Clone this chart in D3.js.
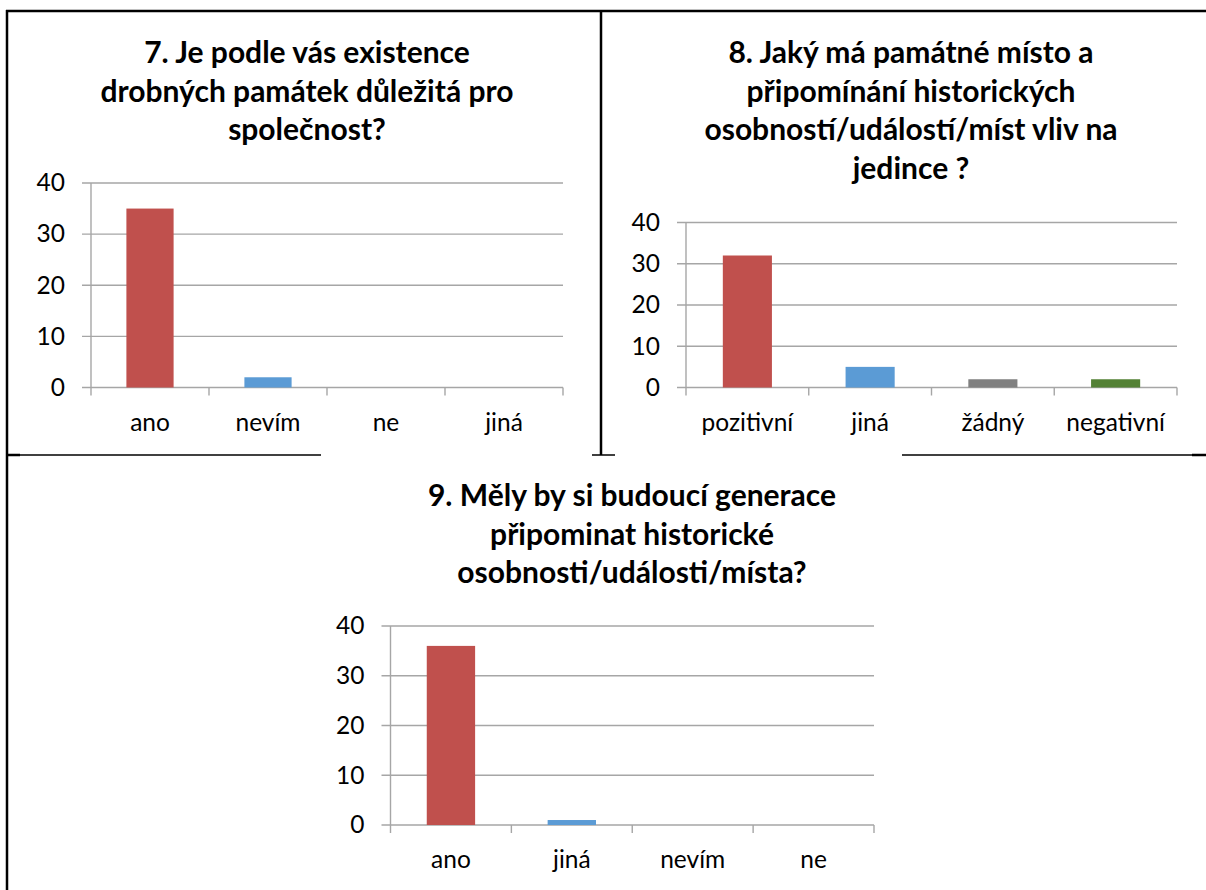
<!DOCTYPE html>
<html>
<head>
<meta charset="utf-8">
<script src="https://cdn.jsdelivr.net/npm/d3@7"></script>
<style>
  html, body { margin: 0; padding: 0; background: #fff; }
  svg { display: block; }
  text { font-family: Lato, "Open Sans", sans-serif; fill: #000; }
</style>
</head>
<body>
<svg id="chart" width="1206" height="890"></svg>
<script>
// ---------- data ----------
const yTicks = [0, 10, 20, 30, 40];
const palette = ["#C0504D", "#5B9BD5", "#808080", "#538135"];

const title7 = ["7. Je podle vás existence", "drobných památek důležitá pro", "společnost?"];
const cats7 = ["ano", "nevím", "ne", "jiná"];
const vals7 = [35, 2, 0, 0];

const title8 = ["8. Jaký má památné místo a", "připomínání historických", "osobností/událostí/míst vliv na", "jedince ?"];
const cats8 = ["pozitivní", "jiná", "žádný", "negativní"];
const vals8 = [32, 5, 2, 2];

const title9 = ["9. Měly by si budoucí generace", "připominat historické", "osobnosti/události/místa?"];
const cats9 = ["ano", "jiná", "nevím", "ne"];
const vals9 = [36, 1, 0, 0];

// ---------- layout ----------
const layouts = [
  { x0: 91, x1: 563, yBottom: 387.5, yTop: 183, titleX: 307, titleY: 63 },
  { x0: 686, x1: 1177, yBottom: 387.5, yTop: 222.5, titleX: 911, titleY: 63 },
  { x0: 390.5, x1: 874, yBottom: 825, yTop: 626, titleX: 632, titleY: 506 }
];

const svg = d3.select("#chart");
const gridColor = "#A6A6A6";
const labelSize = 24.5;

// ---------- frame lines ----------
const frame = svg.append("g").attr("stroke", "#000").attr("fill", "none");
frame.append("line").attr("x1", 6).attr("x2", 1206).attr("y1", 11).attr("y2", 11).attr("stroke-width", 2.5);
frame.append("line").attr("x1", 7).attr("x2", 7).attr("y1", 10).attr("y2", 890).attr("stroke-width", 2.5);
frame.append("line").attr("x1", 601).attr("x2", 601).attr("y1", 11).attr("y2", 455).attr("stroke-width", 2.5);
[[6, 321, 1.5], [6, 20, 2.5], [592, 615, 1.5], [902, 1206, 1.5], [1192, 1206, 2.5]].forEach(s => {
  frame.append("line").attr("x1", s[0]).attr("x2", s[1]).attr("y1", 455).attr("y2", 455).attr("stroke-width", s[2]);
});

// ---------- charts ----------
function drawChart(L, titleLines, cats, vals) {
  const g = svg.append("g");
  const x = d3.scaleBand().domain(cats).range([L.x0, L.x1]).paddingInner(0.6).paddingOuter(0.3);
  const y = d3.scaleLinear().domain([0, 40]).range([L.yBottom, L.yTop]);

  // title
  const t = g.append("text")
    .attr("text-anchor", "middle")
    .attr("font-weight", 700)
    .attr("font-size", 30);
  titleLines.forEach((line, i) => {
    t.append("tspan").attr("x", L.titleX).attr("y", L.titleY + i * 38.5).text(line);
  });

  // gridlines
  g.append("g").selectAll("line").data(yTicks).join("line")
    .attr("x1", L.x0 - 9).attr("x2", L.x1)
    .attr("y1", d => y(d)).attr("y2", d => y(d))
    .attr("stroke", gridColor).attr("stroke-width", 1.4);

  // y axis labels
  const ya = g.append("g").attr("transform", `translate(${L.x0},0)`)
    .call(d3.axisLeft(y).tickValues(yTicks).tickSize(0).tickPadding(26));
  ya.select(".domain").remove();
  ya.selectAll("text").attr("font-size", labelSize).attr("font-family", "Lato, 'Open Sans', sans-serif").attr("fill", "#000");

  // vertical axis line
  g.append("line").attr("x1", L.x0).attr("x2", L.x0).attr("y1", y(40)).attr("y2", y(0) + 8)
    .attr("stroke", gridColor).attr("stroke-width", 1.4);

  // category boundary ticks
  const step = x.step();
  const bounds = cats.map(c => x(c) - (step - x.bandwidth()) / 2).concat([L.x1]);
  g.append("g").selectAll("line").data(bounds.slice(1)).join("line")
    .attr("x1", d => d).attr("x2", d => d)
    .attr("y1", y(0)).attr("y2", y(0) + 8)
    .attr("stroke", gridColor).attr("stroke-width", 1.4);

  // bars
  g.append("g").selectAll("rect").data(vals).join("rect")
    .attr("x", (d, i) => x(cats[i]))
    .attr("width", x.bandwidth())
    .attr("y", d => y(d))
    .attr("height", d => y(0) - y(d))
    .attr("fill", (d, i) => palette[i]);

  // category labels
  const xa = g.append("g").attr("transform", `translate(0,${L.yBottom})`)
    .call(d3.axisBottom(x).tickSize(0).tickPadding(0));
  xa.select(".domain").remove();
  xa.selectAll("text").attr("dy", null).attr("y", 43)
    .attr("font-size", labelSize).attr("font-family", "Lato, 'Open Sans', sans-serif").attr("fill", "#000");
}

drawChart(layouts[0], title7, cats7, vals7);
drawChart(layouts[1], title8, cats8, vals8);
drawChart(layouts[2], title9, cats9, vals9);
</script>
</body>
</html>
